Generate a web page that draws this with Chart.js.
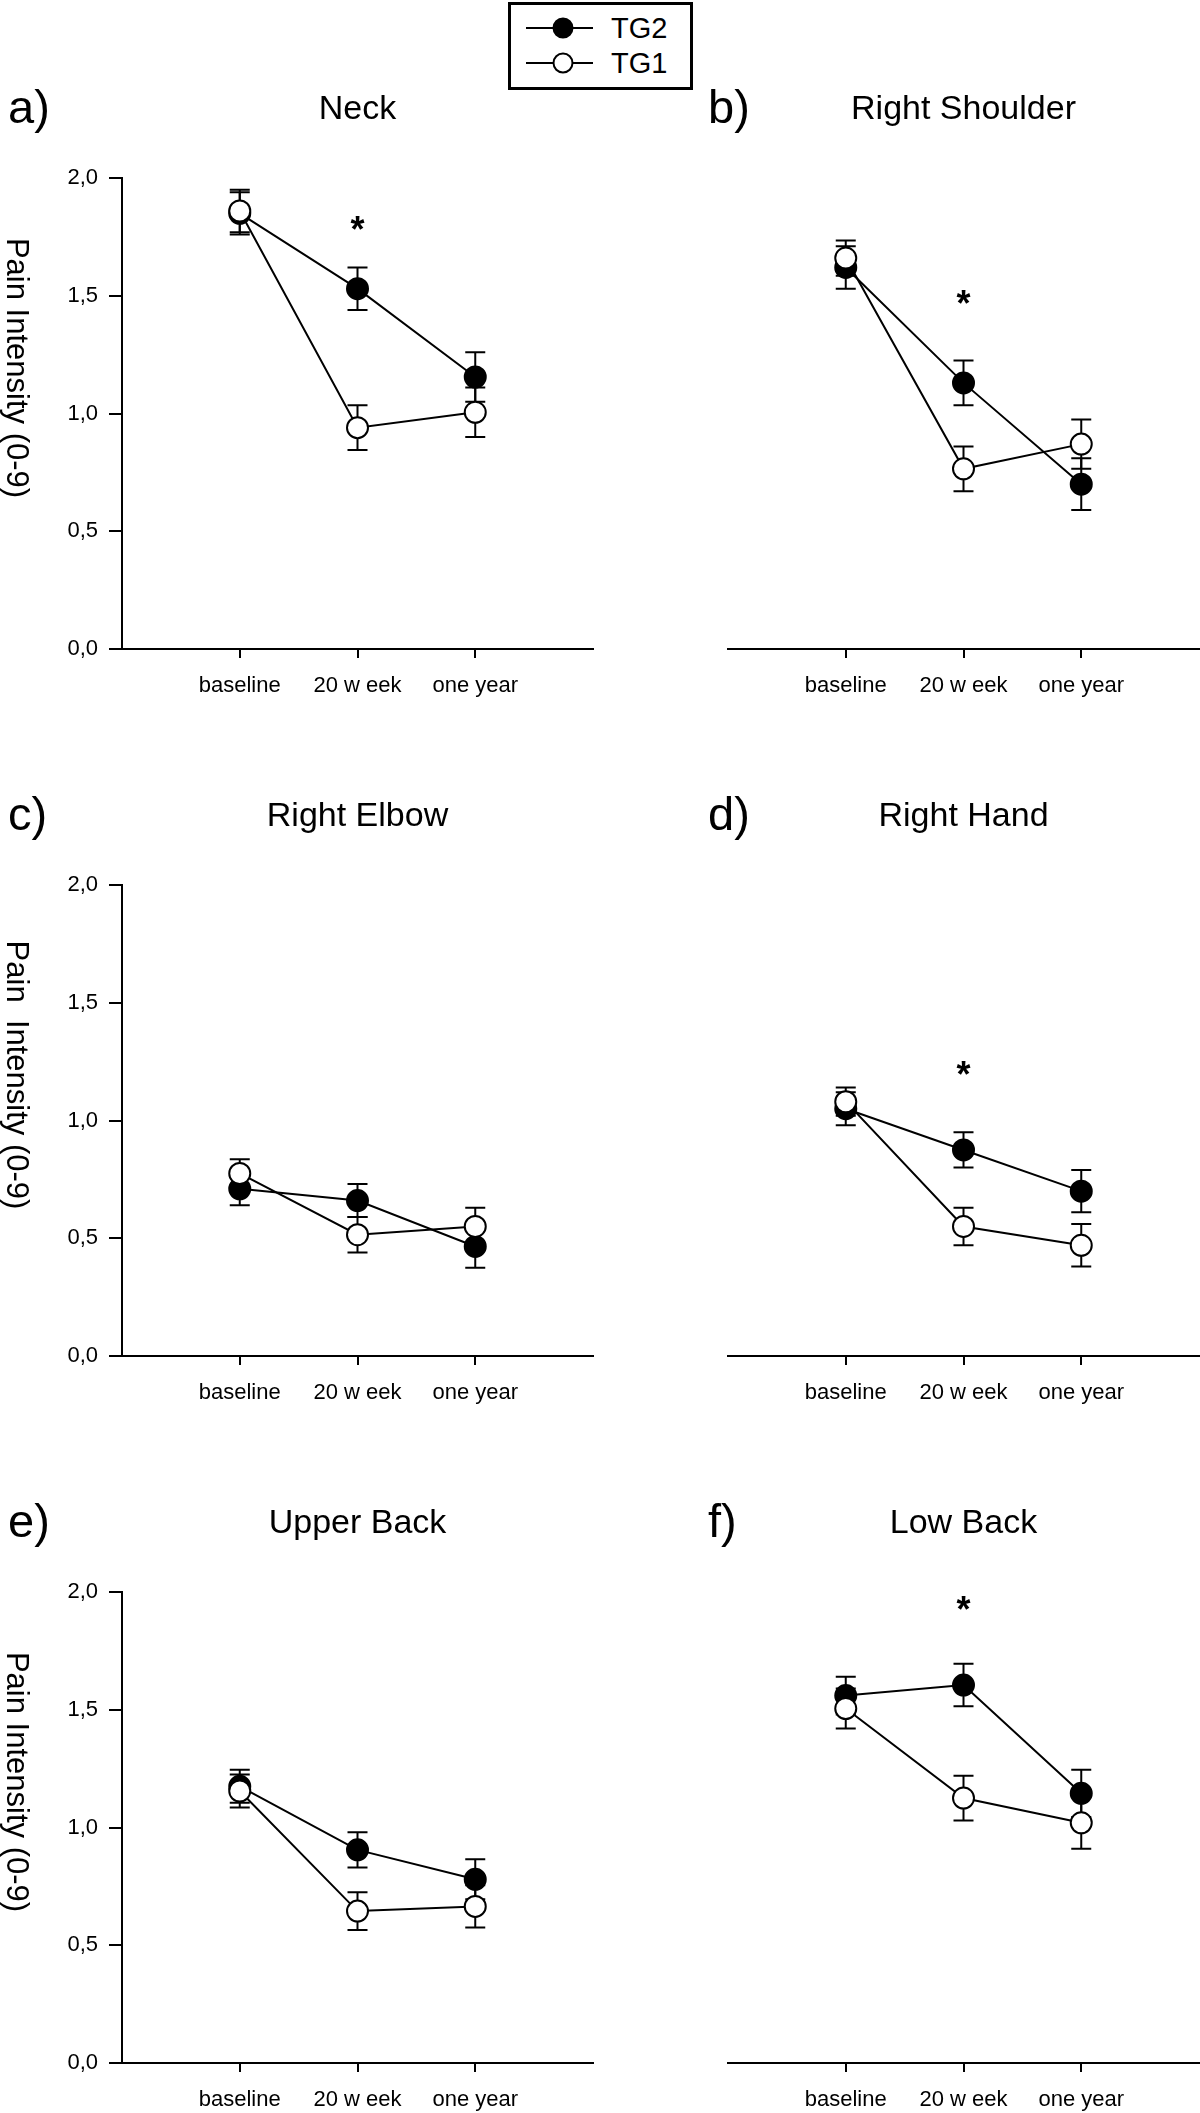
<!DOCTYPE html>
<html>
<head>
<meta charset="utf-8">
<script src="https://cdn.jsdelivr.net/npm/chart.js@4.4.1/dist/chart.umd.min.js"></script>
<style>
  body { margin: 0; background: #fff; width: 1200px; height: 2113px; position: relative; overflow: hidden;
         font-family: "Liberation Sans", Arial, sans-serif; }
  canvas { position: absolute; }
  .legend { position: absolute; left: 508px; top: 2px; width: 185px; height: 88px; box-sizing: border-box;
            border: 3px solid #000; background: #fff; z-index: 2; }
  .legend-row { position: absolute; left: 15px; height: 36px; display: flex; align-items: center; font-size: 29px; }
  .legend-row svg { margin-right: 17px; }
</style>
</head>
<body>
<div class="legend" id="legend"></div>
<canvas id="p0" width="600" height="700" style="left:0;top:0"></canvas>
<canvas id="p1" width="600" height="700" style="left:600px;top:0"></canvas>
<canvas id="p2" width="600" height="700" style="left:0;top:707px"></canvas>
<canvas id="p3" width="600" height="700" style="left:600px;top:707px"></canvas>
<canvas id="p4" width="600" height="700" style="left:0;top:1414px"></canvas>
<canvas id="p5" width="600" height="700" style="left:600px;top:1414px"></canvas>
<script>
// pain intensity per body region, two training groups, mean +/- SE
const timepoints = ['baseline', '20 w eek', 'one year'];
const regions = ['Neck', 'Right Shoulder', 'Right Elbow', 'Right Hand', 'Upper Back', 'Low Back'];
const panelLetters = ['a)', 'b)', 'c)', 'd)', 'e)', 'f)'];
const yTitles = ['Pain Intensity (0-9)', null, 'Pain  Intensity (0-9)', null, 'Pain Intensity (0-9)', null];
const seriesNames = ['TG2', 'TG1'];

const tg2Mean = [
    [1.85, 1.53, 1.155],
    [1.62, 1.13, 0.70],
    [0.71, 0.66, 0.465],
    [1.05, 0.875, 0.70],
    [1.175, 0.905, 0.78],
    [1.56, 1.605, 1.145]
];
const tg2Err = [
    [0.09, 0.09, 0.105],
    [0.09, 0.095, 0.11],
    [0.07, 0.07, 0.09],
    [0.07, 0.075, 0.09],
    [0.07, 0.075, 0.085],
    [0.08, 0.09, 0.10]
];
const tg1Mean = [
    [1.86, 0.94, 1.005],
    [1.66, 0.765, 0.87],
    [0.775, 0.515, 0.55],
    [1.08, 0.55, 0.47],
    [1.155, 0.645, 0.665],
    [1.505, 1.125, 1.02]
];
const tg1Err = [
    [0.09, 0.095, 0.105],
    [0.075, 0.095, 0.105],
    [0.06, 0.075, 0.08],
    [0.06, 0.08, 0.09],
    [0.07, 0.08, 0.09],
    [0.085, 0.095, 0.11]
];
// height of the significance star above the 20 week point (null = none)
const starValue = [1.815, 1.50, null, 1.23, null, 1.96];
const yTickValues = [0, 0.5, 1, 1.5, 2];

const FONT = '"Liberation Sans", Arial, sans-serif';
Chart.defaults.font.family = FONT;
Chart.defaults.color = '#000';

const seriesFill = ['#000', '#fff'];

// legend box
const legendBox = document.getElementById('legend');
seriesNames.forEach((name, i) => {
    const row = document.createElement('div');
    row.className = 'legend-row';
    row.style.top = (5 + i * 35) + 'px';
    row.innerHTML = '<svg width="68" height="36"><line x1="0" y1="18" x2="67" y2="18" stroke="#000" stroke-width="2"/>' +
        '<circle cx="37" cy="18" r="9.5" fill="' + seriesFill[i] + '" stroke="#000" stroke-width="2"/></svg><span>' + name + '</span>';
    legendBox.appendChild(row);
});

const errorBars = {
    id: 'errorBars',
    beforeDatasetsDraw(chart) {
        const ctx = chart.ctx;
        const ys = chart.scales.y;
        ctx.save();
        ctx.strokeStyle = '#000';
        ctx.lineWidth = 2;
        chart.data.datasets.forEach((ds, i) => {
            chart.getDatasetMeta(i).data.forEach((pt, j) => {
                const m = ds.data[j].y, e = ds.errors[j];
                const top = ys.getPixelForValue(m + e), bot = ys.getPixelForValue(m - e);
                ctx.beginPath();
                ctx.moveTo(pt.x, top); ctx.lineTo(pt.x, bot);
                ctx.moveTo(pt.x - 10, top); ctx.lineTo(pt.x + 10, top);
                ctx.moveTo(pt.x - 10, bot); ctx.lineTo(pt.x + 10, bot);
                ctx.stroke();
            });
        });
        ctx.restore();
    }
};

const panelDecor = {
    id: 'panelDecor',
    afterDraw(chart, args, opts) {
        const { ctx, chartArea, scales } = chart;
        ctx.save();
        ctx.fillStyle = '#000';
        ctx.textBaseline = 'alphabetic';
        ctx.textAlign = 'left';
        ctx.font = '47px ' + FONT;
        ctx.fillText(opts.letter, opts.letterX, chartArea.top - 55);
        if (opts.star != null) {
            ctx.font = 'bold 36px ' + FONT;
            ctx.textAlign = 'center';
            ctx.fillText('*', scales.x.getPixelForValue(2), scales.y.getPixelForValue(opts.star) + 0.57 * 36);
        }
        if (opts.yTitle) {
            ctx.translate(16, chartArea.top + 190);
            ctx.rotate(Math.PI / 2);
            ctx.font = '31px ' + FONT;
            ctx.textAlign = 'center';
            ctx.textBaseline = 'middle';
            ctx.fillText(opts.yTitle, 0, 0);
        }
        ctx.restore();
    }
};

function makePanel(i) {
    const rightCol = i % 2 === 1;
    const toPoints = arr => arr.map((v, j) => ({ x: j + 1, y: v }));
    new Chart(document.getElementById('p' + i), {
        type: 'line',
        data: {
            datasets: [
                {
                    label: seriesNames[0], data: toPoints(tg2Mean[i]), errors: tg2Err[i], order: 2,
                    borderColor: '#000', borderWidth: 2, pointRadius: 10.5, pointBorderWidth: 2,
                    pointBackgroundColor: seriesFill[0], pointBorderColor: '#000', tension: 0
                },
                {
                    label: seriesNames[1], data: toPoints(tg1Mean[i]), errors: tg1Err[i], order: 1,
                    borderColor: '#000', borderWidth: 2, pointRadius: 10.5, pointBorderWidth: 2,
                    pointBackgroundColor: seriesFill[1], pointBorderColor: '#000', tension: 0
                }
            ]
        },
        options: {
            responsive: false,
            animation: false,
            layout: {
                autoPadding: false,
                padding: { left: rightCol ? 128 : 0, right: rightCol ? 1 : 7, top: 0, bottom: 0 }
            },
            scales: {
                x: {
                    type: 'linear', min: 0, max: 4,
                    afterBuildTicks: axis => { axis.ticks = timepoints.map((t, j) => ({ value: j + 1 })); },
                    afterFit: axis => { axis.height = 51; },
                    ticks: {
                        callback: v => timepoints[v - 1],
                        font: { size: 22 }, color: '#000', padding: 15, maxRotation: 0, autoSkip: false
                    },
                    grid: { drawOnChartArea: false, drawTicks: true, tickLength: 9, color: '#000', lineWidth: 2 },
                    border: { display: true, color: '#000', width: 2 }
                },
                y: {
                    display: !rightCol,
                    min: 0, max: 2,
                    afterBuildTicks: axis => { axis.ticks = yTickValues.map(v => ({ value: v })); },
                    afterFit: axis => { axis.width = rightCol ? 0 : 122; },
                    ticks: {
                        callback: v => v.toFixed(1).replace('.', ','),
                        font: { size: 22 }, color: '#000', padding: 11
                    },
                    grid: { drawOnChartArea: false, drawTicks: true, tickLength: 13, color: '#000', lineWidth: 2 },
                    border: { display: true, color: '#000', width: 2 }
                }
            },
            plugins: {
                legend: { display: false },
                tooltip: { enabled: false },
                title: {
                    display: true, text: regions[i], fullSize: false, color: '#000',
                    font: { size: 34, weight: 'normal' }, padding: { top: 89, bottom: 48.2 }
                },
                panelDecor: {
                    letter: panelLetters[i], letterX: rightCol ? 108 : 8,
                    star: starValue[i], yTitle: yTitles[i]
                }
            }
        },
        plugins: [errorBars, panelDecor]
    });
}

regions.forEach((r, i) => makePanel(i));
</script>
</body>
</html>
